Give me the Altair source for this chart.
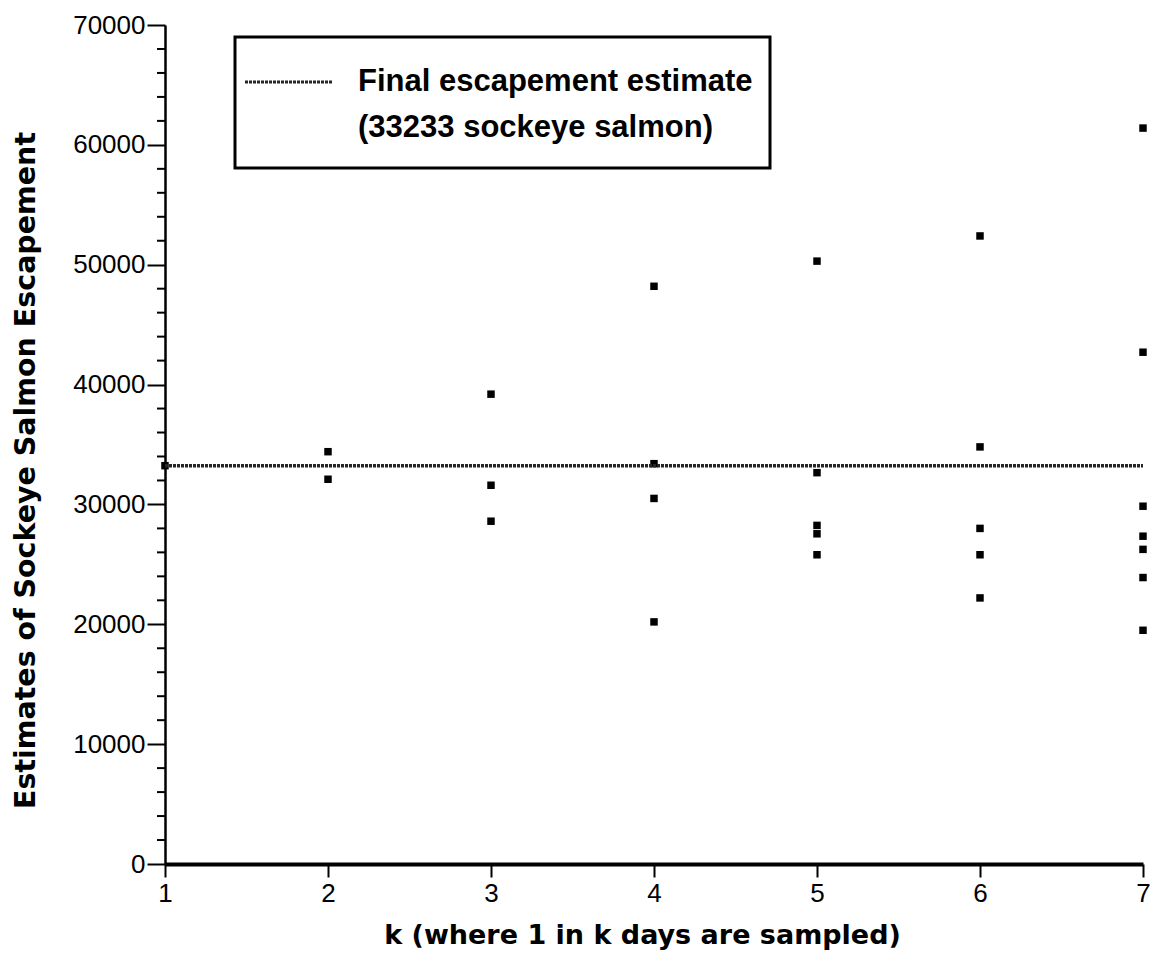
import altair as alt
import pandas as pd

# ---- data ----
k_values = [1,
            2, 2,
            3, 3, 3,
            4, 4, 4, 4,
            5, 5, 5, 5, 5,
            6, 6, 6, 6, 6,
            7, 7, 7, 7, 7, 7, 7]
estimates = [33233,
             34400, 32100,
             39200, 31600, 28600,
             48200, 33400, 30500, 20200,
             50300, 32650, 28250, 27550, 25800,
             52400, 34800, 28000, 25800, 22200,
             61400, 42700, 29850, 27350, 26250, 23900, 19500]
final_estimate = 33233
x_ticks = [1, 2, 3, 4, 5, 6, 7]
y_major = list(range(0, 70001, 10000))
y_minor = [v for v in range(0, 70001, 2000) if v % 10000]
legend_lines = ["Final escapement estimate", "(33233 sockeye salmon)"]

W, H = 978, 839
LABEL_FONT = "Liberation Sans, Arial, Helvetica"
TITLE_FONT = "DejaVu Sans, Verdana, sans-serif"
LEGEND_FONT = "Liberation Sans, Arial, Helvetica"
LINE_COLOR = "#262626"

pts = pd.DataFrame({"k": k_values, "est": estimates})
line_df = pd.DataFrame({"k": [x_ticks[0], x_ticks[-1]], "est": [final_estimate, final_estimate]})
minor_df = pd.DataFrame({"est": y_minor})
one = pd.DataFrame({"a": [0]})

x_scale = alt.Scale(domain=[1, 7], nice=False, zero=False)
y_scale = alt.Scale(domain=[0, 70000], nice=False, zero=True)

x_axis = alt.Axis(
    values=x_ticks, format="d", grid=False,
    title="k (where 1 in k days are sampled)",
    tickSize=13, tickWidth=2, tickColor="black",
    domainWidth=4, domainColor="black",
    labelFont=LABEL_FONT, labelFontSize=26, labelColor="black", labelPadding=3,
    labelFlush=False, labelOverlap=False, labelBound=False,
    titleFont=TITLE_FONT, titleFontSize=27, titleFontWeight="bold", titleColor="black",
    titleX=477, titleY=71, titleBaseline="middle", titleAlign="center",
)
y_axis = alt.Axis(
    values=y_major, format="d", grid=False,
    title="Estimates of Sockeye Salmon Escapement",
    tickSize=18, tickWidth=2, tickColor="black",
    domainWidth=2.5, domainColor="black",
    labelFont=LABEL_FONT, labelFontSize=26, labelColor="black", labelPadding=2,
    labelOverlap=False, labelBound=False, labelFlush=False,
    titleFont=TITLE_FONT, titleFontSize=28.5, titleFontWeight="bold", titleColor="black",
    titleX=-140, titleY=445, titleBaseline="middle", titleAlign="center", titleAngle=-90,
)

points = alt.Chart(pts).mark_square(size=56, color="black", opacity=1).encode(
    x=alt.X("k:Q", scale=x_scale, axis=x_axis),
    y=alt.Y("est:Q", scale=y_scale, axis=y_axis),
)

final_line = alt.Chart(line_df).mark_line(color=LINE_COLOR, strokeWidth=3.5, strokeDash=[3, 1]).encode(
    x=alt.X("k:Q", scale=x_scale, axis=x_axis),
    y=alt.Y("est:Q", scale=y_scale, axis=y_axis),
)

minor_ticks = alt.Chart(minor_df).mark_rule(color="black", strokeWidth=2).encode(
    y=alt.Y("est:Q", scale=y_scale, axis=y_axis),
    x=alt.value(-8), x2=alt.value(0),
)

legend_box = alt.Chart(one).mark_rect(fill="white", stroke="black", strokeWidth=3).encode(
    x=alt.value(70), x2=alt.value(605), y=alt.value(12), y2=alt.value(143),
)
legend_sample = alt.Chart(one).mark_rule(color=LINE_COLOR, strokeWidth=3, strokeDash=[3, 1]).encode(
    x=alt.value(80), x2=alt.value(168), y=alt.value(57),
)
legend_t1 = alt.Chart(one).mark_text(
    align="left", baseline="middle", font=LEGEND_FONT, fontSize=31, fontWeight="bold", color="black"
).encode(x=alt.value(193), y=alt.value(57), text=alt.value(legend_lines[0]))
legend_t2 = alt.Chart(one).mark_text(
    align="left", baseline="middle", font=LEGEND_FONT, fontSize=31, fontWeight="bold", color="black"
).encode(x=alt.value(193), y=alt.value(103), text=alt.value(legend_lines[1]))

chart = alt.layer(
    points, final_line, minor_ticks, legend_box, legend_sample, legend_t1, legend_t2
).properties(
    width=W, height=H,
    autosize=alt.AutoSizeParams(type="none"),
    padding={"left": 157, "top": 17, "right": 8, "bottom": 88},
    background="white",
).configure_view(stroke=None)

chart.save("out.html", embed_options={"renderer": "svg", "actions": False})
